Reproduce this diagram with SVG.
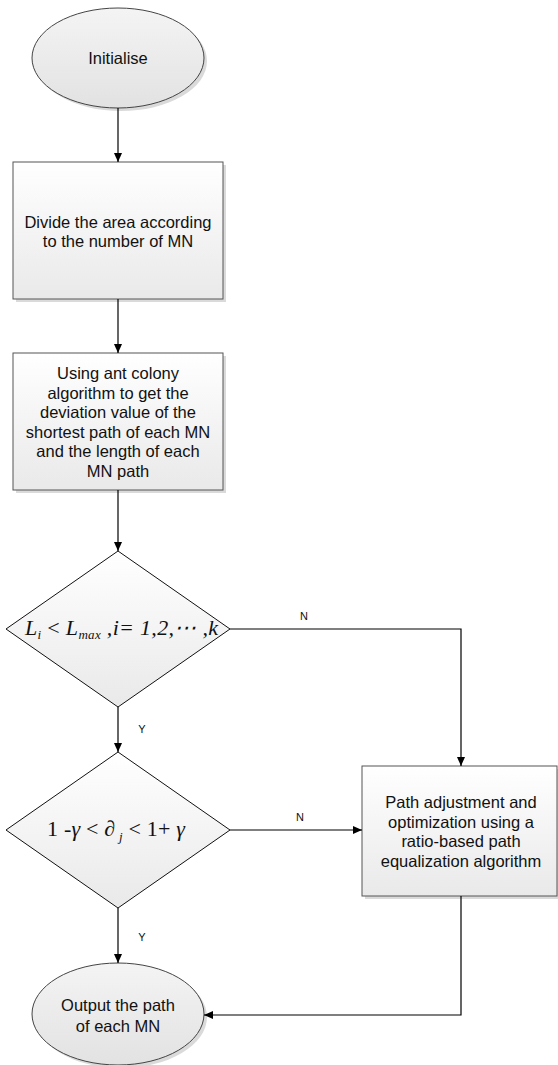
<svg xmlns="http://www.w3.org/2000/svg" width="558" height="1065" viewBox="0 0 558 1065">
<defs>
<linearGradient id="gBox" x1="0" y1="0" x2="0" y2="1"><stop offset="0" stop-color="#ffffff"/><stop offset="1" stop-color="#e9e9e9"/></linearGradient>
<linearGradient id="gEll" x1="0" y1="0" x2="0" y2="1"><stop offset="0" stop-color="#f4f4f4"/><stop offset="1" stop-color="#e2e2e2"/></linearGradient>
<marker id="arr" markerWidth="10" markerHeight="8" refX="9" refY="4" orient="auto" markerUnits="userSpaceOnUse"><path d="M0,0 L9,4 L0,8 Z" fill="#000"/></marker>
</defs>
<style>
.box{fill:url(#gBox);stroke:#555;stroke-width:1}
.ell{fill:url(#gEll);stroke:#444;stroke-width:1}
.dia{fill:url(#gBox);stroke:#111;stroke-width:1}
.shadow{fill:#dadada}
.t{font-family:"Liberation Sans",Arial,sans-serif;font-size:16.5px;fill:#111;text-anchor:middle}
.lbl{font-family:"Liberation Sans",Arial,sans-serif;font-size:11px;fill:#111;text-anchor:middle}
.m{font-family:"Liberation Serif","Times New Roman",serif;font-size:22px;fill:#111}
.c{fill:none;stroke:#000;stroke-width:1.2;marker-end:url(#arr)}
</style>
<rect width="558" height="1065" fill="#fff"/>
<g id="start">
<ellipse class="shadow" cx="121" cy="61" rx="86" ry="50"/>
<ellipse class="ell" cx="118" cy="58" rx="86" ry="50"/>
<text class="t" x="118" y="64">Initialise</text>
</g>
<g id="divide">
<rect class="shadow" x="16" y="165" width="210" height="137"/>
<rect class="box" x="13" y="162" width="210" height="137"/>
<text class="t" x="118" y="228">Divide the area according</text>
<text class="t" x="118" y="247">to the number of MN</text>
</g>
<g id="ant">
<rect class="shadow" x="16" y="356" width="210" height="137"/>
<rect class="box" x="13" y="353" width="210" height="137"/>
<text class="t" x="118" y="379">Using ant colony</text>
<text class="t" x="118" y="398.5">algorithm to get the</text>
<text class="t" x="118" y="418">deviation value of the</text>
<text class="t" x="118" y="437.5">shortest path of each MN</text>
<text class="t" x="118" y="457">and the length of each</text>
<text class="t" x="118" y="476.5">MN path</text>
</g>
<g id="cond1">
<polygon class="dia" points="118,551 230,629 118,707 6,629"/>
<text class="m" x="25" y="635" font-style="italic" textLength="193" lengthAdjust="spacing">L<tspan font-size="13" dy="4">i</tspan><tspan dy="-4" font-style="normal"> &lt; </tspan>L<tspan font-size="13" dy="4">max</tspan><tspan dy="-4"> ,i= 1,2,⋯ ,k</tspan></text>
</g>
<g id="cond2">
<polygon class="dia" points="118,752 230,830 118,908 6,830"/>
<text class="m" x="47" y="836" textLength="138" lengthAdjust="spacing">1 -<tspan font-style="italic">γ</tspan> &lt; ∂<tspan font-size="13" dy="5" font-style="italic"> j</tspan><tspan dy="-5"> &lt; 1+ </tspan><tspan font-style="italic">γ</tspan></text>
</g>
<g id="adjust">
<rect class="shadow" x="365" y="769" width="195" height="130"/>
<rect class="box" x="362" y="766" width="195" height="130"/>
<text class="t" x="461" y="808">Path adjustment and</text>
<text class="t" x="461" y="827.5">optimization using a</text>
<text class="t" x="461" y="847">ratio-based path</text>
<text class="t" x="461" y="866.5">equalization algorithm</text>
</g>
<g id="output">
<ellipse class="shadow" cx="121" cy="1017" rx="86" ry="51"/>
<ellipse class="ell" cx="118" cy="1014" rx="86" ry="51"/>
<text class="t" x="118" y="1011">Output the path</text>
<text class="t" x="118" y="1032">of each MN</text>
</g>
<g id="connectors">
<path class="c" d="M118,108 L118,162"/>
<path class="c" d="M118,299 L118,353"/>
<path class="c" d="M118,490 L118,551"/>
<path class="c" d="M118,707 L118,752"/>
<path class="c" d="M118,908 L118,963"/>
<path class="c" d="M230,629 L461,629 L461,766"/>
<path class="c" d="M230,830 L362,830"/>
<path class="c" d="M461,896 L461,1015 L204,1015"/>
<text class="lbl" x="304" y="620">N</text>
<text class="lbl" x="300" y="821">N</text>
<text class="lbl" x="142" y="733">Y</text>
<text class="lbl" x="142" y="941">Y</text>
</g>
</svg>
